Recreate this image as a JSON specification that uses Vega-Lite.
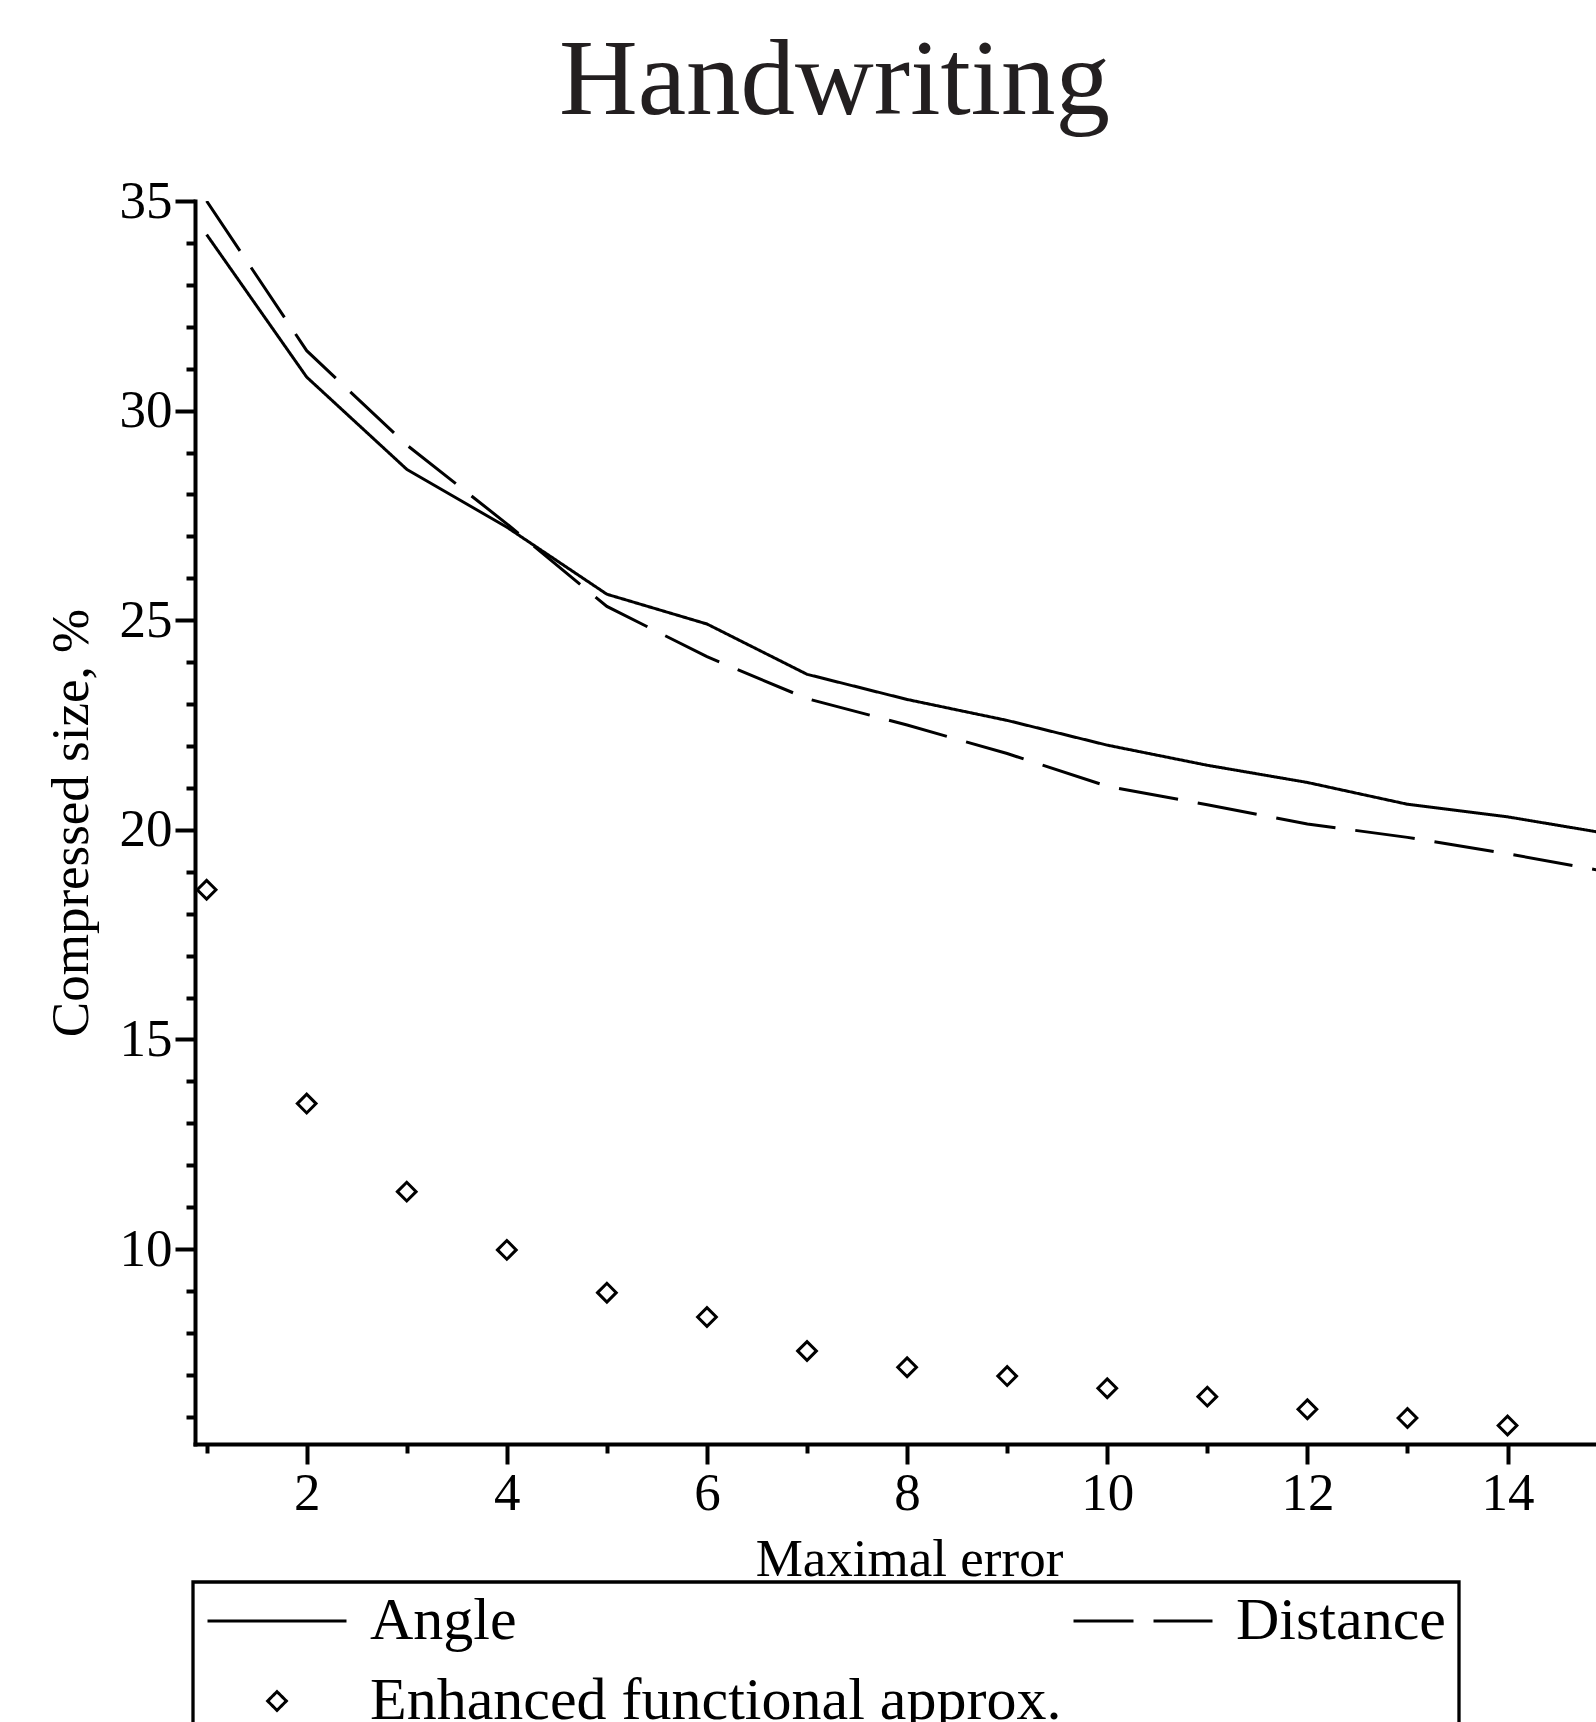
{
  "$schema": "https://vega.github.io/schema/vega-lite/v6.json",
  "width": 1401,
  "height": 1243,
  "autosize": {"type": "none"},
  "padding": {"left": 195, "top": 201, "right": 0, "bottom": 278},
  "background": "white",
  "title": {
    "text": "Handwriting",
    "font": "Liberation Serif",
    "fontSize": 109,
    "fontWeight": "normal",
    "color": "#231f20",
    "anchor": "middle",
    "frame": "group",
    "dx": -61,
    "dy": 87,
    "baseline": "alphabetic",
    "offset": 39
  },
  "data": {
    "values": [
      {"x": 1, "series": "Angle", "v": 34.2},
      {"x": 2, "series": "Angle", "v": 30.8},
      {"x": 3, "series": "Angle", "v": 28.6},
      {"x": 4, "series": "Angle", "v": 27.22},
      {"x": 5, "series": "Angle", "v": 25.62},
      {"x": 6, "series": "Angle", "v": 24.91},
      {"x": 7, "series": "Angle", "v": 23.71},
      {"x": 8, "series": "Angle", "v": 23.11},
      {"x": 9, "series": "Angle", "v": 22.61},
      {"x": 10, "series": "Angle", "v": 22.02},
      {"x": 11, "series": "Angle", "v": 21.54},
      {"x": 12, "series": "Angle", "v": 21.13},
      {"x": 13, "series": "Angle", "v": 20.61},
      {"x": 14, "series": "Angle", "v": 20.31},
      {"x": 15, "series": "Angle", "v": 19.91},
      {"x": 1, "series": "Distance", "v": 35.0},
      {"x": 2, "series": "Distance", "v": 31.43},
      {"x": 3, "series": "Distance", "v": 29.18},
      {"x": 4, "series": "Distance", "v": 27.3},
      {"x": 5, "series": "Distance", "v": 25.33},
      {"x": 6, "series": "Distance", "v": 24.13},
      {"x": 7, "series": "Distance", "v": 23.13},
      {"x": 8, "series": "Distance", "v": 22.5},
      {"x": 9, "series": "Distance", "v": 21.82},
      {"x": 10, "series": "Distance", "v": 21.04},
      {"x": 11, "series": "Distance", "v": 20.6},
      {"x": 12, "series": "Distance", "v": 20.14},
      {"x": 13, "series": "Distance", "v": 19.82},
      {"x": 14, "series": "Distance", "v": 19.43},
      {"x": 15, "series": "Distance", "v": 19.0},
      {"x": 1, "series": "Enhanced functional approx.", "v": 18.57},
      {"x": 2, "series": "Enhanced functional approx.", "v": 13.47},
      {"x": 3, "series": "Enhanced functional approx.", "v": 11.37},
      {"x": 4, "series": "Enhanced functional approx.", "v": 9.98},
      {"x": 5, "series": "Enhanced functional approx.", "v": 8.96},
      {"x": 6, "series": "Enhanced functional approx.", "v": 8.38},
      {"x": 7, "series": "Enhanced functional approx.", "v": 7.57},
      {"x": 8, "series": "Enhanced functional approx.", "v": 7.18},
      {"x": 9, "series": "Enhanced functional approx.", "v": 6.97},
      {"x": 10, "series": "Enhanced functional approx.", "v": 6.68},
      {"x": 11, "series": "Enhanced functional approx.", "v": 6.48},
      {"x": 12, "series": "Enhanced functional approx.", "v": 6.18},
      {"x": 13, "series": "Enhanced functional approx.", "v": 5.97},
      {"x": 14, "series": "Enhanced functional approx.", "v": 5.79}
    ]
  },
  "encoding": {
    "x": {
      "field": "x",
      "type": "quantitative",
      "scale": {"domain": [0.884, 14.884], "nice": false, "zero": false},
      "axis": {
        "title": "Maximal error",
        "values": [1, 2, 3, 4, 5, 6, 7, 8, 9, 10, 11, 12, 13, 14],
        "labelExpr": "datum.value % 2 === 0 ? datum.label : ''",
        "tickSize": {"condition": {"test": "datum.value % 2 === 0", "value": 20}, "value": 9},
        "labelPadding": 3,
        "labelOverlap": false,
        "labelFlush": false,
        "titleX": 714,
        "titleY": 131,
        "titleBaseline": "alphabetic",
        "titleAlign": "center",
        "grid": false
      }
    },
    "y": {
      "field": "v",
      "type": "quantitative",
      "scale": {"domain": [5.35, 35], "nice": false, "zero": false},
      "axis": {
        "title": "Compressed size, %",
        "values": [6, 7, 8, 9, 10, 11, 12, 13, 14, 15, 16, 17, 18, 19, 20, 21, 22, 23, 24, 25, 26, 27, 28, 29, 30, 31, 32, 33, 34, 35],
        "labelExpr": "datum.value % 5 === 0 ? datum.label : ''",
        "tickSize": {"condition": {"test": "datum.value % 5 === 0", "value": 20}, "value": 9},
        "labelPadding": 3,
        "labelOverlap": false,
        "labelFlush": false,
        "titleX": -108,
        "titleBaseline": "alphabetic",
        "grid": false
      }
    }
  },
  "layer": [
    {
      "transform": [{"filter": "datum.series !== 'Enhanced functional approx.'"}],
      "mark": {"type": "line", "clip": true, "strokeWidth": 3, "color": "black"},
      "encoding": {
        "strokeDash": {
          "field": "series",
          "type": "nominal",
          "scale": {
            "domain": ["Angle", "Distance", "Enhanced functional approx."],
            "range": [[1, 0], [60, 20], [1, 0]]
          },
          "legend": {
            "title": null,
            "orient": "none",
            "direction": "horizontal",
            "legendX": -2,
            "legendY": 1381,
            "columns": 2,
            "symbolType": "stroke",
            "symbolSize": 19321,
            "symbolStrokeWidth": 3,
            "symbolStrokeColor": "black",
            "symbolFillColor": "transparent",
            "labelFont": "Liberation Serif",
            "labelFontSize": 60,
            "labelColor": "black",
            "labelOffset": 22,
            "labelLimit": 2000,
            "padding": 13,
            "rowPadding": 20,
            "columnPadding": 10,
            "clipHeight": 52,
            "strokeColor": "black",
            "fillColor": "white",
            "encode": {
              "legend": {"update": {"strokeWidth": {"value": 3.3}}},
              "symbols": {
                "update": {
                  "shape": {"signal": "datum.value === 'Enhanced functional approx.' ? 'diamond' : 'stroke'"},
                  "size": {"signal": "datum.value === 'Enhanced functional approx.' ? 350 : 19321"},
                  "stroke": {"value": "black"},
                  "fill": {"value": "transparent"}
                }
              }
            }
          }
        }
      }
    },
    {
      "transform": [{"filter": "datum.series === 'Enhanced functional approx.'"}],
      "mark": {"type": "point", "shape": "diamond", "filled": false, "size": 350, "strokeWidth": 3, "color": "black", "opacity": 1, "clip": true}
    }
  ],
  "config": {
    "view": {"stroke": null},
    "axis": {
      "domainColor": "black",
      "domainWidth": 4,
      "domainCap": "square",
      "tickColor": "black",
      "tickWidth": 4,
      "labelFont": "Liberation Serif",
      "labelFontSize": 53,
      "labelColor": "black",
      "titleFont": "Liberation Serif",
      "titleFontSize": 53,
      "titleFontWeight": "normal",
      "titleColor": "black"
    }
  }
}
